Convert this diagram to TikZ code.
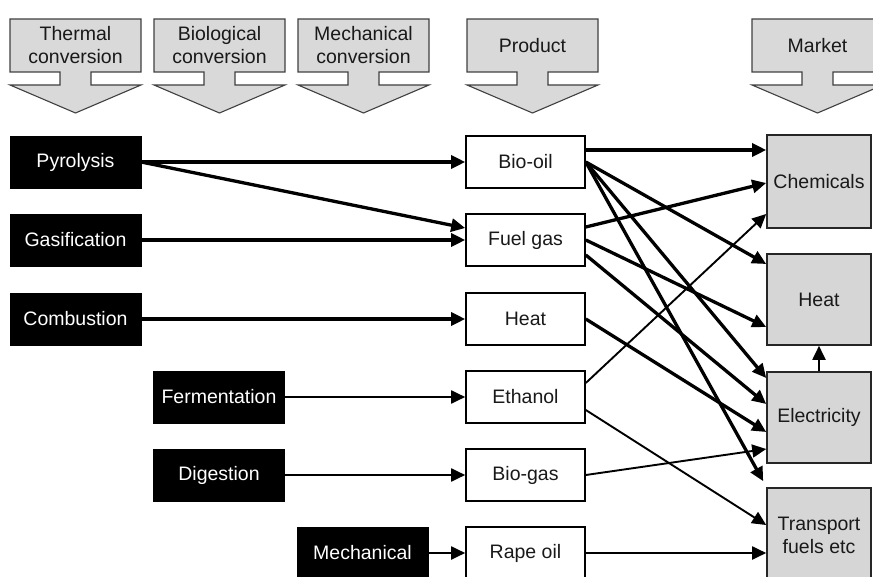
\documentclass[tikz,border=0pt]{standalone}
\usepackage{fontspec}
\setmainfont{Liberation Sans}
\usetikzlibrary{arrows.meta,calc}
\definecolor{boxgray}{HTML}{D6D6D6}
\definecolor{hdrgray}{HTML}{D9D9D9}
\begin{document}
\begin{tikzpicture}[x=1pt,y=-1pt,
  font=\fontsize{19.5}{23}\selectfont,
  proc/.style={fill=black, draw=black, text=white, minimum width=131pt, minimum height=52pt, inner sep=0pt},
  prod/.style={fill=white, draw=black, line width=1.6pt, minimum width=119pt, minimum height=52pt, inner sep=0pt, text=black!90},
  mkt/.style={fill=boxgray, draw=black!85, line width=1.6pt, minimum width=104pt, inner sep=0pt, align=center, text=black!90},
  hdr/.style={fill=hdrgray, draw=black!75, line width=1.1pt},
  hdrtext/.style={align=center, inner sep=0pt, text=black!90},
  thk/.style={line width=3.3pt, -{Triangle[length=14pt,width=13pt]}},
  thn/.style={line width=1.9pt, -{Triangle[length=14pt,width=13pt]}}
]
\useasboundingbox (0,0) rectangle (873,577);
\clip (0,0) rectangle (873,577);

% header arrows
\foreach \x/\t/\n in {10/{Thermal\\conversion}/ht, 154/{Biological\\conversion}/hb, 298/{Mechanical\\conversion}/hm, 467/{Product}/hp, 752/{Market}/hk}{
  \draw[hdr] (\x,19) -- ++(131,0) -- ++(0,53) -- ++(-50,0) -- ++(0,13) -- ++(50,0) -- (\x+65.5,113) -- (\x,85) -- ++(50,0) -- ++(0,-13) -- (\x,72) -- cycle;
  \node[hdrtext] (\n) at (\x+65.5,45.5) {\t};
}

% process boxes
\node[proc] (pyro) at (75.5,162) {Pyrolysis};
\node[proc] (gas)  at (75.5,240) {Gasification};
\node[proc] (comb) at (75.5,319) {Combustion};
\node[proc] (ferm) at (219,397) {Fermentation};
\node[proc] (dig)  at (219,475) {Digestion};
\node[proc] (mech) at (362.5,553) {Mechanical};

% product boxes
\node[prod] (bio)   at (525.5,162) {Bio-oil};
\node[prod] (fuel)  at (525.5,240) {Fuel gas};
\node[prod] (heatp) at (525.5,319) {Heat};
\node[prod] (eth)   at (525.5,397) {Ethanol};
\node[prod] (bgas)  at (525.5,475) {Bio-gas};
\node[prod] (rape)  at (525.5,553) {Rape oil};

% market boxes
\node[mkt, minimum height=93pt] (chem)  at (819,181.5) {Chemicals};
\node[mkt, minimum height=91pt] (heatm) at (819,299.5) {Heat};
\node[mkt, minimum height=91pt] (elec)  at (819,417.5) {Electricity};
\node[mkt, minimum height=94pt] (trans) at (819,535) {Transport\\fuels etc};

% process -> product
\draw[thk] (pyro.east) -- (bio.west);
\draw[thk] (pyro.east) -- ([yshift=12pt]fuel.west);
\draw[thk] (gas.east) -- (fuel.west);
\draw[thk] (comb.east) -- (heatp.west);
\draw[thn] (ferm.east) -- (eth.west);
\draw[thn] (dig.east) -- (bgas.west);
\draw[thn] (mech.east) -- (rape.west);

% product -> market
\draw[thk] ([yshift=12pt]bio.east) -- ([yshift=31.5pt]chem.west);
\draw[thk] (bio.east) -- ([yshift=35.5pt]heatm.west);
\draw[thk] (bio.east) -- ([yshift=39.5pt]elec.west);
\draw[thk] (bio.east) -- ([xshift=-3pt,yshift=6pt]trans.north west);
\draw[thk] ([yshift=13pt]fuel.east) -- ([yshift=-1.5pt]chem.west);
\draw[thk] (fuel.east) -- ([yshift=-27.5pt]heatm.west);
\draw[thk] ([yshift=-15pt]fuel.east) -- ([yshift=13.5pt]elec.west);
\draw[thk] (heatp.east) -- ([yshift=-14.5pt]elec.west);
\draw[thn] ([yshift=14pt]eth.east) -- ([yshift=-32.5pt]chem.west);
\draw[thn] ([yshift=-13pt]eth.east) -- ([yshift=10pt]trans.west);
\draw[thn] (bgas.east) -- ([yshift=-31.5pt]elec.west);
\draw[thn] (rape.east) -- ([yshift=-18pt]trans.west);
\draw[thn] (elec.north) -- (heatm.south);
\end{tikzpicture}
\end{document}
